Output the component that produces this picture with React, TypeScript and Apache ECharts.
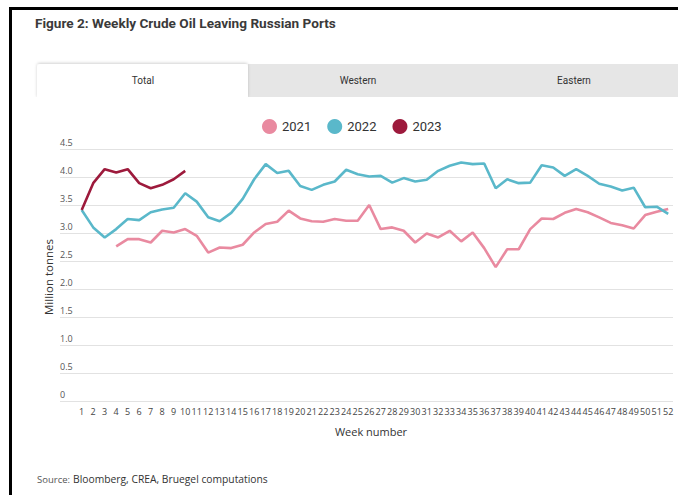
import React, { useEffect, useRef } from "react";
import * as echarts from "echarts";

const weeks = [
  "1", "2", "3", "4", "5", "6", "7", "8", "9", "10",
  "11", "12", "13", "14", "15", "16", "17", "18", "19", "20",
  "21", "22", "23", "24", "25", "26", "27", "28", "29", "30",
  "31", "32", "33", "34", "35", "36", "37", "38", "39", "40",
  "41", "42", "43", "44", "45", "46", "47", "48", "49", "50",
  "51", "52",
];

const values2021 = [
  null, null, null, 2.76, 2.89, 2.89, 2.83, 3.04, 3.01, 3.07,
  2.95, 2.65, 2.74, 2.73, 2.79, 3.01, 3.16, 3.2, 3.4, 3.26,
  3.21, 3.2, 3.25, 3.22, 3.22, 3.5, 3.07, 3.1, 3.04, 2.83,
  2.99, 2.92, 3.04, 2.85, 3.01, 2.73, 2.39, 2.71, 2.71, 3.07,
  3.26, 3.25, 3.36, 3.43, 3.37, 3.28, 3.18, 3.14, 3.08, 3.32,
  3.38, 3.43,
];

const values2022 = [
  3.41, 3.1, 2.92, 3.07, 3.25, 3.23, 3.37, 3.42, 3.45, 3.71,
  3.56, 3.28, 3.21, 3.36, 3.61, 3.96, 4.23, 4.07, 4.11, 3.84,
  3.77, 3.86, 3.92, 4.13, 4.05, 4.01, 4.02, 3.9, 3.98, 3.92,
  3.95, 4.11, 4.2, 4.26, 4.23, 4.24, 3.8, 3.96, 3.89, 3.9,
  4.21, 4.17, 4.02, 4.14, 4.02, 3.88, 3.83, 3.76, 3.81, 3.46,
  3.47, 3.34,
];

const values2023 = [3.41, 3.89, 4.14, 4.08, 4.14, 3.89, 3.8, 3.86, 3.96, 4.11];

const seriesNames = ["2021", "2022", "2023"];
const seriesColors = ["#e98aa0", "#5ab8ca", "#9d1a3c"];
const seriesValues = [values2021, values2022, values2023];

const tabLabels = ["Total", "Western", "Eastern"];
const titleText = "Figure 2: Weekly Crude Oil Leaving Russian Ports";
const yAxisTitle = "Million tonnes";
const xAxisTitle = "Week number";
const sourceLabel = "Source:";
const sourceText = "Bloomberg, CREA, Bruegel computations";

const HEAD = "Roboto, 'Noto Sans', sans-serif";
const BODY = "'Open Sans', 'Noto Sans', sans-serif";

export default function App() {
  const ref = useRef<HTMLDivElement>(null);

  useEffect(() => {
    const chart = echarts.init(ref.current as HTMLDivElement, null, { renderer: "svg" });
    const top = 149;
    const bottom = 94;

    chart.setOption({
      animation: false,
      backgroundColor: "#ffffff",
      legend: {
        data: seriesNames,
        icon: "circle",
        left: 257,
        top: 114,
        itemWidth: 15,
        itemHeight: 15,
        itemGap: 16,
        textStyle: { fontSize: 13, color: "#333", fontFamily: HEAD },
      },
      grid: [
        { left: 60, right: 5, top, bottom },
        { left: 81.7, right: 9.8, top, bottom },
      ],
      xAxis: [
        { gridIndex: 0, type: "value", min: 0, max: 1, show: false },
        {
          gridIndex: 1,
          type: "category",
          data: weeks,
          boundaryGap: false,
          axisLine: { show: false },
          axisTick: { show: false },
          splitLine: { show: false },
          axisLabel: {
            interval: 0,
            hideOverlap: false,
            fontSize: 9,
            color: "#444",
            margin: 6,
            fontFamily: BODY,
          },
        },
      ],
      yAxis: [
        {
          gridIndex: 0,
          type: "value",
          min: 0,
          max: 4.5,
          interval: 0.5,
          axisLine: { show: false },
          axisTick: { show: false },
          splitLine: { lineStyle: { color: "#e2e2e2", width: 1 } },
          axisLabel: {
            inside: true,
            margin: 0,
            verticalAlign: "bottom",
            padding: [0, 0, 2, 0],
            fontSize: 9,
            color: "#555",
            fontFamily: BODY,
            formatter: (v: number) => (v === 0 ? "0" : v.toFixed(1)),
          },
        },
        { gridIndex: 1, type: "value", min: 0, max: 4.5, show: false },
      ],
      series: seriesNames.map((name, i) => ({
        name,
        type: "line",
        xAxisIndex: 1,
        yAxisIndex: 1,
        data: seriesValues[i],
        showSymbol: false,
        symbol: "none",
        connectNulls: false,
        color: seriesColors[i],
        itemStyle: { color: seriesColors[i] },
        lineStyle: { color: seriesColors[i], width: 2.6 },
        z: 3 + i,
      })),
      graphic: [
        { type: "rect", shape: { x: 9, y: 7, width: 669, height: 3 }, style: { fill: "#000" } },
        { type: "rect", shape: { x: 9, y: 7, width: 3, height: 488 }, style: { fill: "#000" } },
        {
          type: "text",
          x: 35,
          y: 23,
          style: {
            text: titleText,
            font: `bold 13.6px ${HEAD}`,
            fill: "#3a3a3a",
            verticalAlign: "middle",
          },
        },
        { type: "rect", shape: { x: 248, y: 64, width: 430, height: 33 }, style: { fill: "#e6e6e6" } },
        {
          type: "rect",
          shape: { x: 37, y: 64, width: 211, height: 34, r: [3, 3, 0, 0] },
          style: { fill: "#ffffff", shadowBlur: 3, shadowColor: "rgba(0,0,0,0.18)", shadowOffsetY: -1 },
        },
        { type: "rect", shape: { x: 30, y: 97, width: 230, height: 8 }, style: { fill: "#ffffff" } },
        ...tabLabels.map((t, i) => ({
          type: "text",
          x: [143, 358, 574][i],
          y: 80,
          style: { text: t, font: `10px ${HEAD}`, fill: "#333", align: "center", verticalAlign: "middle" },
        })),
        {
          type: "text",
          x: 48,
          y: 277,
          rotation: Math.PI / 2,
          style: { text: yAxisTitle, font: `11.5px ${BODY}`, fill: "#333", align: "center", verticalAlign: "middle" },
        },
        {
          type: "text",
          x: 371,
          y: 431,
          style: { text: xAxisTitle, font: `11px ${BODY}`, fill: "#333", align: "center", verticalAlign: "middle" },
        },
        {
          type: "text",
          x: 37,
          y: 479,
          style: { text: sourceLabel, font: `9.5px ${BODY}`, fill: "#555", verticalAlign: "middle" },
        },
        {
          type: "text",
          x: 73,
          y: 479,
          style: { text: sourceText, font: `10.3px ${BODY}`, fill: "#333", verticalAlign: "middle" },
        },
      ],
    });

    return () => chart.dispose();
  }, []);

  return (
    <div
      ref={ref}
      style={{ position: "absolute", left: 0, top: 0, width: 678, height: 495, background: "#fff" }}
    />
  );
}
